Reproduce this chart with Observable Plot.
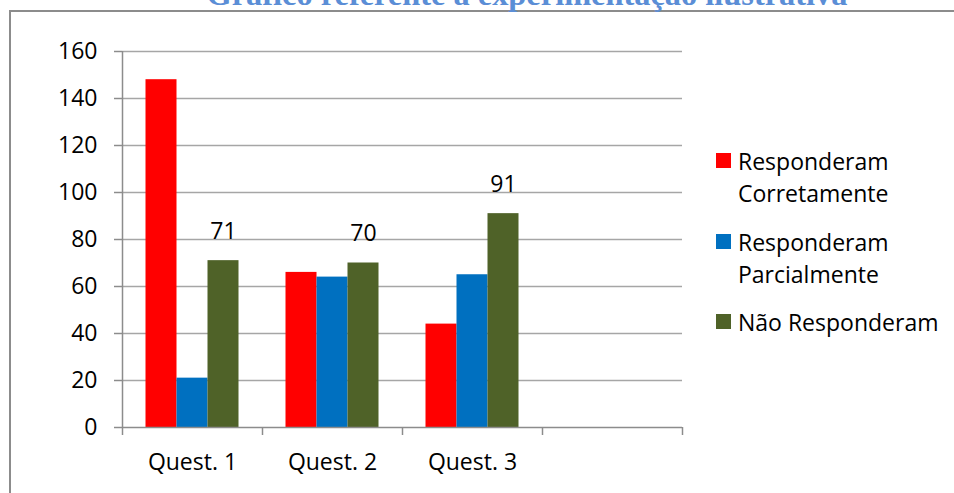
<!DOCTYPE html>
<html>
<head>
<meta charset="utf-8">
<script src="https://cdn.jsdelivr.net/npm/d3@7"></script>
<script src="https://cdn.jsdelivr.net/npm/@observablehq/plot@0.6"></script>
<style>
  html, body { margin: 0; padding: 0; background: #fff; }
  #wrap { position: relative; width: 954px; height: 493px; overflow: hidden; background: #fff; font-family: "Open Sans", sans-serif; }
  #box { position: absolute; left: 9px; top: 10px; width: 1200px; height: 1000px; border-left: 2px solid #8c8c8c; border-top: 2px solid #8c8c8c; box-sizing: border-box; }
  #title { position: absolute; left: 0; top: 0; }
  #chart { position: absolute; left: 0; top: 0; }
  #legend { position: absolute; left: 716px; top: 145px; font-size: 23px; color: #000; }
  .item { position: absolute; left: 0; white-space: nowrap; line-height: 32px; }
  .sw { position: absolute; left: 0; width: 15px; height: 15px; }
  .lbl { position: absolute; left: 22px; top: 0; }
</style>
</head>
<body>
<div id="wrap">
  <div id="box"></div>
  <div id="chart"></div>
  <div id="legend"></div>
</div>
<script>
// ---- data ----
const titleText = "Gráfico referente a experimentação ilustrativa";
const categories = ["Quest. 1", "Quest. 2", "Quest. 3", ""];
const seriesNames = ["Responderam Corretamente", "Responderam Parcialmente", "Não Responderam"];
const legendLines = [["Responderam", "Corretamente"], ["Responderam", "Parcialmente"], ["Não Responderam"]];
const corretamente = [148, 66, 44];
const parcialmente = [21, 64, 65];
const naoResponderam = [71, 70, 91];
const seriesColors = ["#FF0000", "#0070C0", "#4F6228"];
const yTicks = [0, 20, 40, 60, 80, 100, 120, 140, 160];

// ---- build table ----
const seriesValues = [corretamente, parcialmente, naoResponderam];
const rows = [];
seriesValues.forEach((vals, s) => vals.forEach((v, i) => rows.push({q: categories[i], s, series: seriesNames[s], v})));

// ---- layout ----
const W = 954, H = 493;
const mL = 122, mR = 272, mT = 51, mB = 66;
const plotW = W - mL - mR;
const bw = plotW / categories.length;
const barW = 31;
const groupPad = (bw - seriesNames.length * barW) / 2;
const axisColor = "#8c8c8c";
const gridColor = "#a6a6a6";

const barMarks = seriesNames.map((name, s) => {
  const inL = groupPad + s * barW;
  const inR = bw - inL - barW;
  return Plot.barY(rows.filter(d => d.s === s), {
    x: "q", y: "v", fill: seriesColors[s], insetLeft: inL, insetRight: inR
  });
});

const chart = Plot.plot({
  width: W, height: H,
  marginLeft: mL, marginRight: mR, marginTop: mT, marginBottom: mB,
  style: {fontFamily: "Open Sans, sans-serif", fontSize: "23px", color: "#000", background: "transparent", overflow: "visible"},
  x: {type: "band", domain: categories, padding: 0, axis: null},
  y: {domain: [0, 160], axis: null},
  marks: [
    Plot.ruleY(yTicks.filter(t => t > 0), {y: d => d, stroke: gridColor, strokeWidth: 1.5}),
    ...barMarks,
    Plot.ruleY([0], {y: d => d, stroke: axisColor, strokeWidth: 1.5}),
    // y axis line
    Plot.ruleX(categories.slice(0, 1), {x: d => d, dx: -bw / 2, y1: 0, y2: 160, stroke: axisColor, strokeWidth: 1.5}),
    // y tick marks
    Plot.ruleY(yTicks, {y: d => d, insetLeft: -8, insetRight: plotW, stroke: axisColor, strokeWidth: 1.5}),
    // x boundary tick marks
    Plot.ruleX(categories, {x: d => d, dx: -bw / 2, y1: 0, y2: 0, insetBottom: -8, stroke: axisColor, strokeWidth: 1.5}),
    Plot.ruleX(categories.slice(-1), {x: d => d, dx: bw / 2, y1: 0, y2: 0, insetBottom: -8, stroke: axisColor, strokeWidth: 1.5}),
    // y tick labels
    Plot.text(yTicks, {y: d => d, frameAnchor: "left", dx: -25, text: d => String(d), textAnchor: "end", fontSize: 23, fill: "#000"}),
    // x tick labels
    Plot.text(categories.filter(c => c), {x: d => d, y: () => 0, dy: 35, text: d => d, fontSize: 23, fill: "#000"}),
    // data labels for "Não Responderam"
    Plot.text(rows.filter(d => d.s === 2), {x: "q", y: "v", text: d => String(d.v), dx: barW, dy: -29, fontSize: 23, fill: "#000"})
  ]
});
document.getElementById("chart").appendChild(chart);

// ---- title (cut off at top, as in reference) ----
const tsvg = d3.select("#wrap").append("svg").attr("id", "title").attr("width", W).attr("height", 40);
tsvg.append("text").attr("x", 527).attr("y", 4.5).attr("text-anchor", "middle")
  .attr("font-family", "Liberation Serif, Times New Roman, serif").attr("font-weight", "bold")
  .attr("font-size", 32.4).attr("fill", "#5B8ED6").text(titleText);

// ---- legend ----
const leg = d3.select("#legend");
const itemTops = [0, 81, 161];
legendLines.forEach((lines, s) => {
  const it = leg.append("div").attr("class", "item").style("top", itemTops[s] + "px");
  it.append("div").attr("class", "sw").style("top", "8px").style("background", seriesColors[s]);
  const lb = it.append("div").attr("class", "lbl");
  lines.forEach(l => lb.append("div").text(l));
});
</script>
</body>
</html>
